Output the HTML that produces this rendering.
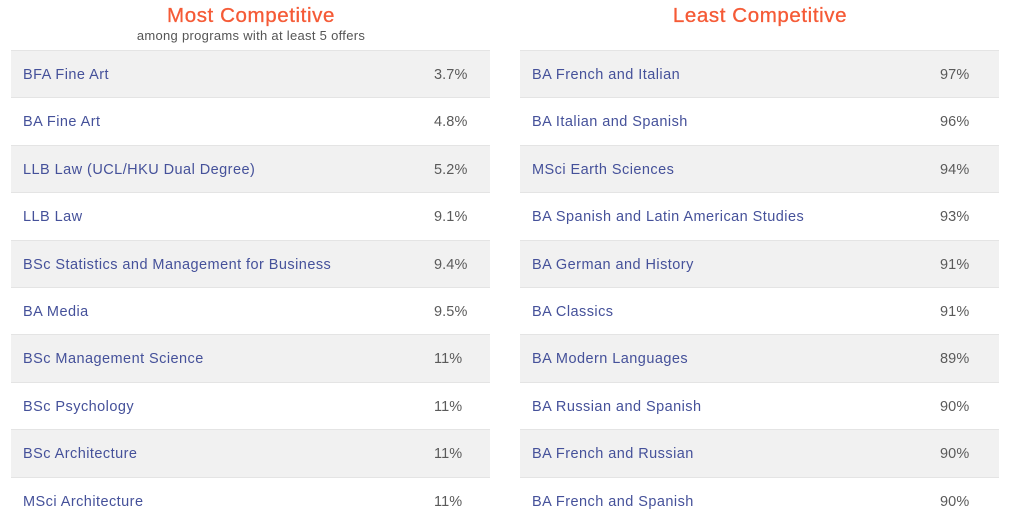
<!DOCTYPE html>
<html><head><meta charset="utf-8"><style>
html,body{margin:0;padding:0;background:#fff;}
body{width:1010px;height:528px;position:relative;overflow:hidden;font-family:"Liberation Sans",sans-serif;}
.title{position:absolute;top:4px;font-size:20.5px;color:#f55a36;text-align:center;width:480px;letter-spacing:0.6px;-webkit-text-stroke:0.3px #f55a36;}
.sub{position:absolute;top:28px;font-size:13px;color:#555;text-align:center;width:480px;letter-spacing:0.3px;}
.tbl{position:absolute;top:50px;width:479px;}
.row{position:relative;height:47.4px;box-sizing:border-box;border-top:1px solid #e4e4e4;}
.row.g{background:#f1f1f1;}
.row .l{position:absolute;left:12px;top:16px;font-size:14.5px;color:#45519a;letter-spacing:0.45px;white-space:nowrap;}
.row .v{position:absolute;top:16px;font-size:14.5px;color:#5a5a5a;letter-spacing:0.1px;}
</style></head><body>
<div class="title" style="left:11px;">Most Competitive</div>
<div class="sub" style="left:11px;">among programs with at least 5 offers</div>
<div class="title" style="left:520px;">Least Competitive</div>

<div class="tbl" style="left:11px;">
<div class="row g"><span class="l">BFA Fine Art</span><span class="v" style="left:423px">3.7%</span></div>
<div class="row"><span class="l">BA Fine Art</span><span class="v" style="left:423px">4.8%</span></div>
<div class="row g"><span class="l">LLB Law (UCL/HKU Dual Degree)</span><span class="v" style="left:423px">5.2%</span></div>
<div class="row"><span class="l">LLB Law</span><span class="v" style="left:423px">9.1%</span></div>
<div class="row g"><span class="l">BSc Statistics and Management for Business</span><span class="v" style="left:423px">9.4%</span></div>
<div class="row"><span class="l">BA Media</span><span class="v" style="left:423px">9.5%</span></div>
<div class="row g"><span class="l">BSc Management Science</span><span class="v" style="left:423px">11%</span></div>
<div class="row"><span class="l">BSc Psychology</span><span class="v" style="left:423px">11%</span></div>
<div class="row g"><span class="l">BSc Architecture</span><span class="v" style="left:423px">11%</span></div>
<div class="row"><span class="l">MSci Architecture</span><span class="v" style="left:423px">11%</span></div>
</div>

<div class="tbl" style="left:520px;">
<div class="row g"><span class="l">BA French and Italian</span><span class="v" style="left:420px">97%</span></div>
<div class="row"><span class="l">BA Italian and Spanish</span><span class="v" style="left:420px">96%</span></div>
<div class="row g"><span class="l">MSci Earth Sciences</span><span class="v" style="left:420px">94%</span></div>
<div class="row"><span class="l">BA Spanish and Latin American Studies</span><span class="v" style="left:420px">93%</span></div>
<div class="row g"><span class="l">BA German and History</span><span class="v" style="left:420px">91%</span></div>
<div class="row"><span class="l">BA Classics</span><span class="v" style="left:420px">91%</span></div>
<div class="row g"><span class="l">BA Modern Languages</span><span class="v" style="left:420px">89%</span></div>
<div class="row"><span class="l">BA Russian and Spanish</span><span class="v" style="left:420px">90%</span></div>
<div class="row g"><span class="l">BA French and Russian</span><span class="v" style="left:420px">90%</span></div>
<div class="row"><span class="l">BA French and Spanish</span><span class="v" style="left:420px">90%</span></div>
</div>
</body></html>
